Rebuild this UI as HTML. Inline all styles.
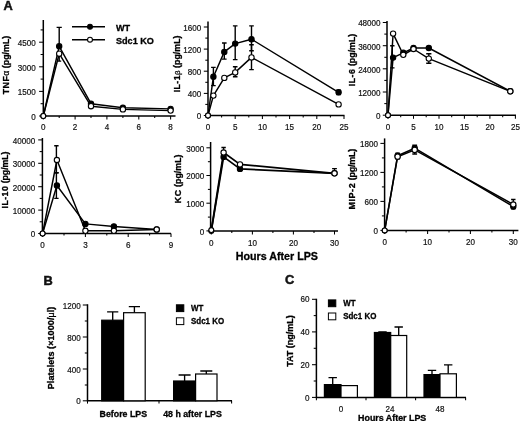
<!DOCTYPE html>
<html lang="en"><head><meta charset="utf-8"><title>Figure</title>
<style>
html,body{margin:0;padding:0;background:#fff;}
body{width:520px;height:421px;overflow:hidden;}
svg{display:block;}
text{font-family:"Liberation Sans", Arial, Helvetica, sans-serif;fill:#111;}
.ax{stroke:#000;stroke-width:1.5;fill:none}
.tk{stroke:#000;stroke-width:1.05;fill:none}
.eb{stroke:#000;stroke-width:1.4;fill:none}
.ln{stroke:#000;stroke-width:1.45;fill:none;stroke-linejoin:round}
.tl{font-size:8.8px;fill:#111;stroke:#111;stroke-width:0.2}
.yl{font-size:8.85px;font-weight:bold;stroke:#000;stroke-width:0.3;fill:#000}
.xl{font-size:10.7px;font-weight:bold;stroke:#000;stroke-width:0.3;fill:#000}
.pl{font-size:12.8px;font-weight:bold;stroke:#111;stroke-width:0.5}
.lg{font-size:9.1px;font-weight:bold;stroke:#000;stroke-width:0.3;fill:#000}
.lgs{font-size:8.7px;font-weight:bold;stroke:#000;stroke-width:0.3;fill:#000}
.bl{font-size:8.8px;font-weight:bold;stroke:#000;stroke-width:0.3;fill:#000}
.yl2{font-size:9px;font-weight:bold;stroke:#000;stroke-width:0.3;fill:#000}
.sym{font-weight:normal;stroke-width:0.25}
.bl2{font-size:8.9px;font-weight:bold;stroke:#000;stroke-width:0.3;fill:#000}
.eb2{stroke:#000;stroke-width:1.35;fill:none}
</style></head><body>
<svg width="520" height="421" viewBox="0 0 520 421">
<rect width="520" height="421" fill="#fff"/>
<text class="pl" x="3.6" y="9.8">A</text>
<text class="pl" x="43.6" y="284.6">B</text>
<text class="pl" x="285" y="284.3">C</text>
<g class="panel" id="tnf">
<path class="ax" d="M43.3 20V116"/>
<path class="ax" d="M43.3 116H175.5"/>
<path class="tk" d="M39.1 116.0H43.3"/>
<text class="tl" transform="translate(35.8 119.9) scale(0.92 1)" text-anchor="end">0</text>
<path class="tk" d="M39.1 91.4H43.3"/>
<text class="tl" transform="translate(35.8 95.3) scale(0.92 1)" text-anchor="end">1500</text>
<path class="tk" d="M39.1 66.8H43.3"/>
<text class="tl" transform="translate(35.8 70.7) scale(0.92 1)" text-anchor="end">3000</text>
<path class="tk" d="M39.1 42.2H43.3"/>
<text class="tl" transform="translate(35.8 46.1) scale(0.92 1)" text-anchor="end">4500</text>
<path class="tk" d="M40.6 103.7H43.3"/>
<path class="tk" d="M40.6 79.1H43.3"/>
<path class="tk" d="M40.6 54.5H43.3"/>
<path class="tk" d="M40.6 29.9H43.3"/>
<path class="tk" d="M43.3 116V119.6"/>
<text class="tl" transform="translate(43.3 130.1) scale(0.92 1)" text-anchor="middle">0</text>
<path class="tk" d="M75.1 116V119.6"/>
<text class="tl" transform="translate(75.1 130.1) scale(0.92 1)" text-anchor="middle">2</text>
<path class="tk" d="M106.9 116V119.6"/>
<text class="tl" transform="translate(106.9 130.1) scale(0.92 1)" text-anchor="middle">4</text>
<path class="tk" d="M138.8 116V119.6"/>
<text class="tl" transform="translate(138.8 130.1) scale(0.92 1)" text-anchor="middle">6</text>
<path class="tk" d="M170.6 116V119.6"/>
<text class="tl" transform="translate(170.6 130.1) scale(0.92 1)" text-anchor="middle">8</text>
<path class="tk" d="M59.2 116V118"/>
<path class="tk" d="M91.0 116V118"/>
<path class="tk" d="M122.9 116V118"/>
<path class="tk" d="M154.7 116V118"/>
<text class="yl" transform="translate(9 65) rotate(-90)" text-anchor="middle"><tspan letter-spacing="0.45">TNF</tspan><tspan class="sym">α</tspan> (pg/mL)</text>
<path class="eb" d="M59.2 46.3V27.4M56.6 27.4h5.2M56.6 46.3h5.2"/>
<path class="eb" d="M59.2 61.1V53.7M57.2 53.7h4M57.2 61.1h4"/>
<path class="ln" d="M43.3 116.0L59.2 46.3L91.0 103.7L122.9 107.8L170.6 108.9"/>
<path class="ln" d="M43.3 116.0L59.2 53.7L91.0 106.2L122.9 109.4L170.6 110.6"/>
<circle cx="43.3" cy="116.0" r="2.45" fill="#000" stroke="#000" stroke-width="1.1"/>
<circle cx="59.2" cy="46.3" r="2.65" fill="#000" stroke="#000" stroke-width="1.1"/>
<circle cx="91.0" cy="103.7" r="2.65" fill="#000" stroke="#000" stroke-width="1.1"/>
<circle cx="122.9" cy="107.8" r="2.65" fill="#000" stroke="#000" stroke-width="1.1"/>
<circle cx="170.6" cy="108.9" r="2.65" fill="#000" stroke="#000" stroke-width="1.1"/>
<circle cx="43.3" cy="116.0" r="2.45" fill="#fff" stroke="#000" stroke-width="1.1"/>
<circle cx="59.2" cy="53.7" r="2.65" fill="#fff" stroke="#000" stroke-width="1.1"/>
<circle cx="91.0" cy="106.2" r="2.65" fill="#fff" stroke="#000" stroke-width="1.1"/>
<circle cx="122.9" cy="109.4" r="2.65" fill="#fff" stroke="#000" stroke-width="1.1"/>
<circle cx="170.6" cy="110.6" r="2.65" fill="#fff" stroke="#000" stroke-width="1.1"/>
</g>
<g class="panel" id="il1">
<path class="ax" d="M208 21.5V115.5"/>
<path class="ax" d="M208 115.5H344.5"/>
<path class="tk" d="M203.8 115.5H208"/>
<text class="tl" transform="translate(201.3 119.4) scale(0.92 1)" text-anchor="end">0</text>
<path class="tk" d="M203.8 93.4H208"/>
<text class="tl" transform="translate(201.3 97.3) scale(0.92 1)" text-anchor="end">400</text>
<path class="tk" d="M203.8 71.2H208"/>
<text class="tl" transform="translate(201.3 75.2) scale(0.92 1)" text-anchor="end">800</text>
<path class="tk" d="M203.8 49.1H208"/>
<text class="tl" transform="translate(201.3 53.0) scale(0.92 1)" text-anchor="end">1200</text>
<path class="tk" d="M203.8 27.0H208"/>
<text class="tl" transform="translate(201.3 30.9) scale(0.92 1)" text-anchor="end">1600</text>
<path class="tk" d="M205.3 104.4H208"/>
<path class="tk" d="M205.3 82.3H208"/>
<path class="tk" d="M205.3 60.2H208"/>
<path class="tk" d="M205.3 38.1H208"/>
<path class="tk" d="M208.0 115.5V119.1"/>
<text class="tl" transform="translate(208.0 130.1) scale(0.92 1)" text-anchor="middle">0</text>
<path class="tk" d="M235.2 115.5V119.1"/>
<text class="tl" transform="translate(235.2 130.1) scale(0.92 1)" text-anchor="middle">5</text>
<path class="tk" d="M262.4 115.5V119.1"/>
<text class="tl" transform="translate(262.4 130.1) scale(0.92 1)" text-anchor="middle">10</text>
<path class="tk" d="M289.6 115.5V119.1"/>
<text class="tl" transform="translate(289.6 130.1) scale(0.92 1)" text-anchor="middle">15</text>
<path class="tk" d="M316.8 115.5V119.1"/>
<text class="tl" transform="translate(316.8 130.1) scale(0.92 1)" text-anchor="middle">20</text>
<path class="tk" d="M344.0 115.5V119.1"/>
<text class="tl" transform="translate(344.0 130.1) scale(0.92 1)" text-anchor="middle">25</text>
<path class="tk" d="M221.6 115.5V117.5"/>
<path class="tk" d="M248.8 115.5V117.5"/>
<path class="tk" d="M276.0 115.5V117.5"/>
<path class="tk" d="M303.2 115.5V117.5"/>
<path class="tk" d="M330.4 115.5V117.5"/>
<text class="yl" transform="translate(179.8 63.9) rotate(-90)" text-anchor="middle"><tspan letter-spacing="0.4">IL-1</tspan><tspan class="sym" font-size="8">β</tspan> (pg/mL)</text>
<path class="eb" d="M213.4 85.6V67.4M211.1 67.4h4.6M211.1 85.6h4.6"/>
<path class="eb" d="M224.3 59.1V43.0M222.0 43.0h4.6M222.0 59.1h4.6"/>
<path class="eb" d="M235.2 59.6V25.9M232.9 25.9h4.6M232.9 59.6h4.6"/>
<path class="eb" d="M251.5 50.8V25.9M249.2 25.9h4.6M249.2 50.8h4.6"/>
<path class="eb" d="M338.6 94.5V90.1M336.3 90.1h4.6M336.3 94.5h4.6"/>
<path class="eb" d="M235.2 76.8V66.8M232.9 66.8h4.6M232.9 76.8h4.6"/>
<path class="eb" d="M251.5 69.6V44.7M249.2 44.7h4.6M249.2 69.6h4.6"/>
<path class="ln" d="M208.0 115.5L213.4 76.8L224.3 51.9L235.2 43.6L251.5 39.2L338.6 92.3"/>
<path class="ln" d="M208.0 115.5L213.4 95.6L224.3 77.9L235.2 72.4L251.5 57.4L338.6 104.4"/>
<circle cx="208.0" cy="115.5" r="2.45" fill="#000" stroke="#000" stroke-width="1.1"/>
<circle cx="213.4" cy="76.8" r="2.65" fill="#000" stroke="#000" stroke-width="1.1"/>
<circle cx="224.3" cy="51.9" r="2.65" fill="#000" stroke="#000" stroke-width="1.1"/>
<circle cx="235.2" cy="43.6" r="2.65" fill="#000" stroke="#000" stroke-width="1.1"/>
<circle cx="251.5" cy="39.2" r="2.65" fill="#000" stroke="#000" stroke-width="1.1"/>
<circle cx="338.6" cy="92.3" r="2.65" fill="#000" stroke="#000" stroke-width="1.1"/>
<circle cx="208.0" cy="115.5" r="2.45" fill="#fff" stroke="#000" stroke-width="1.1"/>
<circle cx="213.4" cy="95.6" r="2.65" fill="#fff" stroke="#000" stroke-width="1.1"/>
<circle cx="224.3" cy="77.9" r="2.65" fill="#fff" stroke="#000" stroke-width="1.1"/>
<circle cx="235.2" cy="72.4" r="2.65" fill="#fff" stroke="#000" stroke-width="1.1"/>
<circle cx="251.5" cy="57.4" r="2.65" fill="#fff" stroke="#000" stroke-width="1.1"/>
<circle cx="338.6" cy="104.4" r="2.65" fill="#fff" stroke="#000" stroke-width="1.1"/>
</g>
<g class="panel" id="il6">
<path class="ax" d="M387 21V115.2"/>
<path class="ax" d="M387 115.2H516"/>
<path class="tk" d="M382.8 115.2H387"/>
<text class="tl" transform="translate(380.6 119.1) scale(0.92 1)" text-anchor="end">0</text>
<path class="tk" d="M382.8 92.0H387"/>
<text class="tl" transform="translate(380.6 95.9) scale(0.92 1)" text-anchor="end">12000</text>
<path class="tk" d="M382.8 68.8H387"/>
<text class="tl" transform="translate(380.6 72.8) scale(0.92 1)" text-anchor="end">24000</text>
<path class="tk" d="M382.8 45.7H387"/>
<text class="tl" transform="translate(380.6 49.6) scale(0.92 1)" text-anchor="end">36000</text>
<path class="tk" d="M382.8 22.5H387"/>
<text class="tl" transform="translate(380.6 26.4) scale(0.92 1)" text-anchor="end">48000</text>
<path class="tk" d="M384.3 103.6H387"/>
<path class="tk" d="M384.3 80.4H387"/>
<path class="tk" d="M384.3 57.3H387"/>
<path class="tk" d="M384.3 34.1H387"/>
<path class="tk" d="M388.0 115.2V118.8"/>
<text class="tl" transform="translate(388.0 130.1) scale(0.92 1)" text-anchor="middle">0</text>
<path class="tk" d="M413.5 115.2V118.8"/>
<text class="tl" transform="translate(413.5 130.1) scale(0.92 1)" text-anchor="middle">5</text>
<path class="tk" d="M439.0 115.2V118.8"/>
<text class="tl" transform="translate(439.0 130.1) scale(0.92 1)" text-anchor="middle">10</text>
<path class="tk" d="M464.4 115.2V118.8"/>
<text class="tl" transform="translate(464.4 130.1) scale(0.92 1)" text-anchor="middle">15</text>
<path class="tk" d="M489.9 115.2V118.8"/>
<text class="tl" transform="translate(489.9 130.1) scale(0.92 1)" text-anchor="middle">20</text>
<path class="tk" d="M515.4 115.2V118.8"/>
<text class="tl" transform="translate(515.4 130.1) scale(0.92 1)" text-anchor="middle">25</text>
<path class="tk" d="M400.7 115.2V117.2"/>
<path class="tk" d="M426.2 115.2V117.2"/>
<path class="tk" d="M451.7 115.2V117.2"/>
<path class="tk" d="M477.2 115.2V117.2"/>
<path class="tk" d="M502.7 115.2V117.2"/>
<text class="yl" transform="translate(354.8 60) rotate(-90)" text-anchor="middle"><tspan letter-spacing="0.5">IL-6</tspan> (pg/mL)</text>
<path class="eb" d="M392.3 67.9V45.7M390.1 45.7h4.4M390.1 67.9h4.4"/>
<path class="eb" d="M428.8 63.2V53.8M426.2 53.8h5.2M426.2 63.2h5.2"/>
<path class="ln" d="M388.0 115.2L393.1 57.6L403.3 52.8L413.5 48.0L428.8 48.0L510.3 91.3"/>
<path class="ln" d="M388.0 115.2L393.1 33.6L403.3 54.8L413.5 49.0L428.8 58.6L510.3 91.3"/>
<circle cx="388.0" cy="115.2" r="2.45" fill="#000" stroke="#000" stroke-width="1.1"/>
<circle cx="393.1" cy="57.6" r="2.65" fill="#000" stroke="#000" stroke-width="1.1"/>
<circle cx="403.3" cy="52.8" r="2.65" fill="#000" stroke="#000" stroke-width="1.1"/>
<circle cx="413.5" cy="48.0" r="2.65" fill="#000" stroke="#000" stroke-width="1.1"/>
<circle cx="428.8" cy="48.0" r="2.65" fill="#000" stroke="#000" stroke-width="1.1"/>
<circle cx="510.3" cy="91.3" r="2.65" fill="#000" stroke="#000" stroke-width="1.1"/>
<circle cx="388.0" cy="115.2" r="2.45" fill="#fff" stroke="#000" stroke-width="1.1"/>
<circle cx="393.1" cy="33.6" r="2.65" fill="#fff" stroke="#000" stroke-width="1.1"/>
<circle cx="403.3" cy="54.8" r="2.65" fill="#fff" stroke="#000" stroke-width="1.1"/>
<circle cx="413.5" cy="49.0" r="2.65" fill="#fff" stroke="#000" stroke-width="1.1"/>
<circle cx="428.8" cy="58.6" r="2.65" fill="#fff" stroke="#000" stroke-width="1.1"/>
<circle cx="510.3" cy="91.3" r="2.65" fill="#fff" stroke="#000" stroke-width="1.1"/>
</g>
<g class="panel" id="il10">
<path class="ax" d="M42.4 138V233.4"/>
<path class="ax" d="M42.4 233.4H171"/>
<path class="tk" d="M38.2 233.5H42.4"/>
<text class="tl" transform="translate(35.2 237.4) scale(0.92 1)" text-anchor="end">0</text>
<path class="tk" d="M38.2 210.1H42.4"/>
<text class="tl" transform="translate(35.2 214.0) scale(0.92 1)" text-anchor="end">10000</text>
<path class="tk" d="M38.2 186.7H42.4"/>
<text class="tl" transform="translate(35.2 190.6) scale(0.92 1)" text-anchor="end">20000</text>
<path class="tk" d="M38.2 163.3H42.4"/>
<text class="tl" transform="translate(35.2 167.2) scale(0.92 1)" text-anchor="end">30000</text>
<path class="tk" d="M38.2 139.9H42.4"/>
<text class="tl" transform="translate(35.2 143.8) scale(0.92 1)" text-anchor="end">40000</text>
<path class="tk" d="M39.7 221.8H42.4"/>
<path class="tk" d="M39.7 198.4H42.4"/>
<path class="tk" d="M39.7 175.0H42.4"/>
<path class="tk" d="M39.7 151.6H42.4"/>
<path class="tk" d="M42.6 233.4V237.0"/>
<text class="tl" transform="translate(42.6 248) scale(0.92 1)" text-anchor="middle">0</text>
<path class="tk" d="M85.4 233.4V237.0"/>
<text class="tl" transform="translate(85.4 248) scale(0.92 1)" text-anchor="middle">3</text>
<path class="tk" d="M128.2 233.4V237.0"/>
<text class="tl" transform="translate(128.2 248) scale(0.92 1)" text-anchor="middle">6</text>
<path class="tk" d="M171.0 233.4V237.0"/>
<text class="tl" transform="translate(171.0 248) scale(0.92 1)" text-anchor="middle">9</text>
<path class="tk" d="M64.0 233.4V235.4"/>
<path class="tk" d="M106.8 233.4V235.4"/>
<path class="tk" d="M149.6 233.4V235.4"/>
<text class="yl" transform="translate(8 180) rotate(-90)" text-anchor="middle"><tspan letter-spacing="0.4">IL-10</tspan> <tspan letter-spacing="-0.1">(pg/mL)</tspan></text>
<path class="eb" d="M56.4 198.4V172.7M54.2 172.7h4.4M54.2 198.4h4.4"/>
<path class="eb" d="M56.4 172.7V145.8M54.2 145.8h4.4M54.2 172.7h4.4"/>
<path class="ln" d="M42.6 233.5L56.9 185.5L85.4 223.9L113.9 226.5L156.7 229.5"/>
<path class="ln" d="M42.6 233.5L56.9 160.0L85.4 230.8L113.9 230.8L156.7 229.5"/>
<circle cx="42.6" cy="233.5" r="2.45" fill="#000" stroke="#000" stroke-width="1.1"/>
<circle cx="56.9" cy="185.5" r="2.65" fill="#000" stroke="#000" stroke-width="1.1"/>
<circle cx="85.4" cy="223.9" r="2.65" fill="#000" stroke="#000" stroke-width="1.1"/>
<circle cx="113.9" cy="226.5" r="2.65" fill="#000" stroke="#000" stroke-width="1.1"/>
<circle cx="156.7" cy="229.5" r="2.65" fill="#000" stroke="#000" stroke-width="1.1"/>
<circle cx="42.6" cy="233.5" r="2.45" fill="#fff" stroke="#000" stroke-width="1.1"/>
<circle cx="56.9" cy="160.0" r="2.65" fill="#fff" stroke="#000" stroke-width="1.1"/>
<circle cx="85.4" cy="230.8" r="2.65" fill="#fff" stroke="#000" stroke-width="1.1"/>
<circle cx="113.9" cy="230.8" r="2.65" fill="#fff" stroke="#000" stroke-width="1.1"/>
<circle cx="156.7" cy="229.5" r="2.65" fill="#fff" stroke="#000" stroke-width="1.1"/>
</g>
<g class="panel" id="kc">
<path class="ax" d="M210.6 142V230.9"/>
<path class="ax" d="M210.6 230.9H338"/>
<path class="tk" d="M206.4 230.9H210.6"/>
<text class="tl" transform="translate(204.3 234.8) scale(0.92 1)" text-anchor="end">0</text>
<path class="tk" d="M206.4 203.2H210.6"/>
<text class="tl" transform="translate(204.3 207.1) scale(0.92 1)" text-anchor="end">1000</text>
<path class="tk" d="M206.4 175.5H210.6"/>
<text class="tl" transform="translate(204.3 179.4) scale(0.92 1)" text-anchor="end">2000</text>
<path class="tk" d="M206.4 147.8H210.6"/>
<text class="tl" transform="translate(204.3 151.7) scale(0.92 1)" text-anchor="end">3000</text>
<path class="tk" d="M207.9 217.1H210.6"/>
<path class="tk" d="M207.9 189.4H210.6"/>
<path class="tk" d="M207.9 161.7H210.6"/>
<path class="tk" d="M211.3 230.9V234.5"/>
<text class="tl" transform="translate(211.3 246) scale(0.92 1)" text-anchor="middle">0</text>
<path class="tk" d="M252.4 230.9V234.5"/>
<text class="tl" transform="translate(252.4 246) scale(0.92 1)" text-anchor="middle">10</text>
<path class="tk" d="M293.4 230.9V234.5"/>
<text class="tl" transform="translate(293.4 246) scale(0.92 1)" text-anchor="middle">20</text>
<path class="tk" d="M334.5 230.9V234.5"/>
<text class="tl" transform="translate(334.5 246) scale(0.92 1)" text-anchor="middle">30</text>
<path class="tk" d="M231.8 230.9V232.9"/>
<path class="tk" d="M272.9 230.9V232.9"/>
<path class="tk" d="M314.0 230.9V232.9"/>
<text class="yl" transform="translate(180.9 178.8) rotate(-90)" text-anchor="middle"><tspan letter-spacing="0.5">KC</tspan> (pg/mL)</text>
<path class="eb" d="M223.6 152.5V147.5M221.4 147.5h4.4M221.4 152.5h4.4"/>
<path class="eb" d="M334.5 173.3V168.6M332.1 168.6h4.8M332.1 173.3h4.8"/>
<path class="ln" d="M211.3 230.9L223.6 156.9L240.0 168.9L334.5 173.3" style="stroke-width:1.75"/>
<path class="ln" d="M211.3 230.1L223.6 152.5L240.0 164.4L334.5 173.3" style="stroke-width:1.75"/>
<circle cx="211.3" cy="230.9" r="2.45" fill="#000" stroke="#000" stroke-width="1.1"/>
<circle cx="223.6" cy="156.9" r="2.65" fill="#000" stroke="#000" stroke-width="1.1"/>
<circle cx="240.0" cy="168.9" r="2.65" fill="#000" stroke="#000" stroke-width="1.1"/>
<circle cx="334.5" cy="173.3" r="2.65" fill="#000" stroke="#000" stroke-width="1.1"/>
<circle cx="211.3" cy="230.1" r="2.45" fill="#fff" stroke="#000" stroke-width="1.1"/>
<circle cx="223.6" cy="152.5" r="2.65" fill="#fff" stroke="#000" stroke-width="1.1"/>
<circle cx="240.0" cy="164.4" r="2.65" fill="#fff" stroke="#000" stroke-width="1.1"/>
<circle cx="334.5" cy="173.3" r="2.65" fill="#fff" stroke="#000" stroke-width="1.1"/>
</g>
<g class="panel" id="mip">
<path class="ax" d="M384.6 138.4V230.5"/>
<path class="ax" d="M384.6 230.5H518.4"/>
<path class="tk" d="M380.4 230.4H384.6"/>
<text class="tl" transform="translate(378.0 234.3) scale(0.92 1)" text-anchor="end">0</text>
<path class="tk" d="M380.4 201.4H384.6"/>
<text class="tl" transform="translate(378.0 205.3) scale(0.92 1)" text-anchor="end">600</text>
<path class="tk" d="M380.4 172.4H384.6"/>
<text class="tl" transform="translate(378.0 176.3) scale(0.92 1)" text-anchor="end">1200</text>
<path class="tk" d="M380.4 143.4H384.6"/>
<text class="tl" transform="translate(378.0 147.3) scale(0.92 1)" text-anchor="end">1800</text>
<path class="tk" d="M381.9 215.9H384.6"/>
<path class="tk" d="M381.9 186.9H384.6"/>
<path class="tk" d="M381.9 157.9H384.6"/>
<path class="tk" d="M384.7 230.5V234.1"/>
<text class="tl" transform="translate(384.7 245.3) scale(0.92 1)" text-anchor="middle">0</text>
<path class="tk" d="M427.6 230.5V234.1"/>
<text class="tl" transform="translate(427.6 245.3) scale(0.92 1)" text-anchor="middle">10</text>
<path class="tk" d="M470.4 230.5V234.1"/>
<text class="tl" transform="translate(470.4 245.3) scale(0.92 1)" text-anchor="middle">20</text>
<path class="tk" d="M513.3 230.5V234.1"/>
<text class="tl" transform="translate(513.3 245.3) scale(0.92 1)" text-anchor="middle">30</text>
<path class="tk" d="M406.1 230.5V232.5"/>
<path class="tk" d="M449.0 230.5V232.5"/>
<path class="tk" d="M491.9 230.5V232.5"/>
<text class="yl2" transform="translate(355.3 179.3) rotate(-90)" text-anchor="middle"><tspan letter-spacing="0.55">MIP-2</tspan> <tspan letter-spacing="-0.25">(pg/mL)</tspan></text>
<path class="eb" d="M397.6 158.9V153.1M395.4 153.1h4.4M395.4 158.9h4.4"/>
<path class="eb" d="M414.7 154.0V145.3M412.3 145.3h4.8M412.3 154.0h4.8"/>
<path class="eb" d="M513.3 208.7V199.5M511.1 199.5h4.4M511.1 208.7h4.4"/>
<path class="ln" d="M384.7 230.4L397.6 155.7L414.7 148.2L513.3 206.5" style="stroke-width:1.5"/>
<path class="ln" d="M384.7 230.4L397.6 156.7L414.7 149.9L513.3 204.5" style="stroke-width:1.5"/>
<circle cx="384.7" cy="230.4" r="2.45" fill="#000" stroke="#000" stroke-width="1.1"/>
<circle cx="397.6" cy="155.7" r="2.65" fill="#000" stroke="#000" stroke-width="1.1"/>
<circle cx="414.7" cy="148.2" r="2.65" fill="#000" stroke="#000" stroke-width="1.1"/>
<circle cx="513.3" cy="206.5" r="2.65" fill="#000" stroke="#000" stroke-width="1.1"/>
<circle cx="384.7" cy="230.4" r="2.45" fill="#fff" stroke="#000" stroke-width="1.1"/>
<circle cx="397.6" cy="156.7" r="2.65" fill="#fff" stroke="#000" stroke-width="1.1"/>
<circle cx="414.7" cy="149.9" r="2.65" fill="#fff" stroke="#000" stroke-width="1.1"/>
<circle cx="513.3" cy="204.5" r="2.65" fill="#fff" stroke="#000" stroke-width="1.1"/>
</g>
<path class="ln" d="M72 26.7H105M72 39.7H105"/>
<circle cx="90" cy="26.7" r="2.45" fill="#000" stroke="#000" stroke-width="1.1"/>
<circle cx="90" cy="39.7" r="2.45" fill="#fff" stroke="#000" stroke-width="1.1"/>
<text class="lg" x="116" y="31">WT</text>
<text class="lg" x="116" y="44.2">Sdc1 KO</text>
<text class="xl" x="276.9" y="259.5" text-anchor="middle">Hours After LPS</text>
<g id="pB">
<path class="ax" d="M87.5 304.3V400.8H232"/>
<path class="tk" d="M82.8 305H87.5"/>
<text class="tl" transform="translate(80.8 308.5) scale(0.92 1)" text-anchor="end">1200</text>
<path class="tk" d="M82.8 337H87.5"/>
<text class="tl" transform="translate(80.8 340.5) scale(0.92 1)" text-anchor="end">800</text>
<path class="tk" d="M82.8 369H87.5"/>
<text class="tl" transform="translate(80.8 372.5) scale(0.92 1)" text-anchor="end">400</text>
<path class="tk" d="M82.8 400.8H87.5"/>
<text class="tl" transform="translate(80.8 404.3) scale(0.92 1)" text-anchor="end">0</text>
<path class="tk" d="M84.8 321H87.5"/>
<path class="tk" d="M84.8 353H87.5"/>
<path class="tk" d="M84.8 385H87.5"/>
<path class="tk" d="M87.5 400.8V403.6"/>
<path class="tk" d="M159 400.8V403.6"/>
<path class="tk" d="M231.6 400.8V403.6"/>
<path class="eb2" d="M112.7 320.2V311.8M107.1 311.8h11.2"/>
<rect x="101.7" y="320.2" width="21.89999999999999" height="80.60000000000002" fill="#000" stroke="#000" stroke-width="1.2"/>
<path class="eb2" d="M134.4 312.7V306.6M128.8 306.6h11.2"/>
<rect x="123.6" y="312.7" width="21.599999999999994" height="88.10000000000002" fill="#fff" stroke="#000" stroke-width="1.2"/>
<path class="eb2" d="M184.6 381V375M178.6 375h12"/>
<rect x="173.6" y="381" width="22.0" height="19.80000000000001" fill="#000" stroke="#000" stroke-width="1.2"/>
<path class="eb2" d="M206.3 374V371M200.3 371h12"/>
<rect x="195.6" y="374" width="21.400000000000006" height="26.80000000000001" fill="#fff" stroke="#000" stroke-width="1.2"/>
<text class="yl2" transform="translate(54 348) rotate(-90)" text-anchor="middle"><tspan letter-spacing="0.08">Platelets</tspan> <tspan letter-spacing="0.1">(×1000/</tspan><tspan class="sym">μ</tspan>l)</text>
<rect x="176.4" y="304.8" width="7.4" height="6.8" fill="#000" stroke="#000" stroke-width="1"/>
<rect x="176.4" y="317.8" width="7.4" height="6.8" fill="#fff" stroke="#000" stroke-width="1"/>
<text class="lgs" transform="translate(191 311.2) scale(0.915 1)">WT</text>
<text class="lgs" transform="translate(191 324.2) scale(0.915 1)">Sdc1 KO</text>
<text class="bl" x="123.3" y="417" text-anchor="middle">Before LPS</text>
<text class="bl" x="192.5" y="417" text-anchor="middle">48 h after LPS</text>
</g>
<g id="pC">
<path class="ax" d="M316.4 298.7V397.4H466"/>
<path class="tk" d="M312 299.3H316.4"/>
<text class="tl" transform="translate(309.6 302.4) scale(0.92 1)" text-anchor="end">60</text>
<path class="tk" d="M312 331.9H316.4"/>
<text class="tl" transform="translate(309.6 335.0) scale(0.92 1)" text-anchor="end">40</text>
<path class="tk" d="M312 364.7H316.4"/>
<text class="tl" transform="translate(309.6 367.8) scale(0.92 1)" text-anchor="end">20</text>
<path class="tk" d="M312 397.4H316.4"/>
<text class="tl" transform="translate(309.6 400.5) scale(0.92 1)" text-anchor="end">0</text>
<path class="tk" d="M313.7 315.6H316.4"/>
<path class="tk" d="M313.7 348.3H316.4"/>
<path class="tk" d="M313.7 381H316.4"/>
<path class="tk" d="M316.4 397.4V400.2"/>
<path class="tk" d="M366 397.4V400.2"/>
<path class="tk" d="M415.6 397.4V400.2"/>
<path class="tk" d="M465.6 397.4V400.2"/>
<path class="eb2" d="M332.7 384.6V377.6M328.5 377.6h8.4"/>
<rect x="324.4" y="384.6" width="16.600000000000023" height="12.799999999999955" fill="#000" stroke="#000" stroke-width="1.2"/>
<path class="eb2" d="M349.2 385.6V385.6M349.2 385.6h0"/>
<rect x="341" y="385.6" width="16.399999999999977" height="11.799999999999955" fill="#fff" stroke="#000" stroke-width="1.2"/>
<path class="eb2" d="M382.5 332.5V332M378.3 332h8.4"/>
<rect x="374.4" y="332.5" width="16.30000000000001" height="64.89999999999998" fill="#000" stroke="#000" stroke-width="1.2"/>
<path class="eb2" d="M398.7 335.5V327M394.5 327h8.4"/>
<rect x="390.7" y="335.5" width="16.0" height="61.89999999999998" fill="#fff" stroke="#000" stroke-width="1.2"/>
<path class="eb2" d="M432.0 374.6V370.4M427.8 370.4h8.4"/>
<rect x="424" y="374.6" width="16" height="22.799999999999955" fill="#000" stroke="#000" stroke-width="1.2"/>
<path class="eb2" d="M448.2 373.8V364.8M444.0 364.8h8.4"/>
<rect x="440" y="373.8" width="16.399999999999977" height="23.599999999999966" fill="#fff" stroke="#000" stroke-width="1.2"/>
<text class="yl2" transform="translate(292.8 341) rotate(-90)" text-anchor="middle">TAT (ng/mL)</text>
<rect x="328.4" y="299.9" width="7.4" height="6.8" fill="#000" stroke="#000" stroke-width="1"/>
<rect x="328.4" y="313" width="7.4" height="6.8" fill="#fff" stroke="#000" stroke-width="1"/>
<text class="lgs" transform="translate(343.2 305.5) scale(0.915 1)">WT</text>
<text class="lgs" transform="translate(343.2 318.8) scale(0.915 1)">Sdc1 KO</text>
<text class="tl" transform="translate(341 411.7) scale(0.92 1)" text-anchor="middle">0</text>
<text class="tl" transform="translate(390 411.7) scale(0.92 1)" text-anchor="middle">24</text>
<text class="tl" transform="translate(440 411.7) scale(0.92 1)" text-anchor="middle">48</text>
<text class="bl2" x="392.2" y="420.7" text-anchor="middle">Hours After LPS</text>
</g>
</svg></body></html>
